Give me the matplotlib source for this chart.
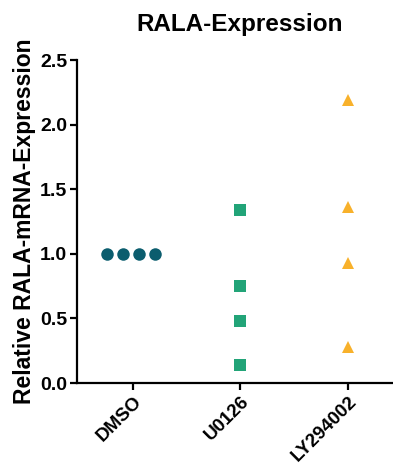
import numpy as np
import matplotlib
matplotlib.use("Agg")
import matplotlib.pyplot as plt

plt.rcParams['font.family'] = ['Liberation Sans', 'DejaVu Sans']

categories = ["DMSO", "U0126", "LY294002"]
dmso = [1.0, 1.0, 1.0, 1.0]
u0126 = [1.34, 0.75, 0.48, 0.14]
ly294002 = [2.19, 1.36, 0.93, 0.28]

groups = [dmso, u0126, ly294002]
markers = ["o", "s", "^"]
colors = ["#0b5d6e", "#22a478", "#f8b12b"]
sizes = [9, 8, 8.5]


def spread(values, step=0.15):
    # spread tied values sideways like a column scatter
    vals = np.asarray(values)
    offs = np.zeros(len(vals))
    for v in np.unique(vals):
        idx = np.where(vals == v)[0]
        n = len(idx)
        offs[idx] = (np.arange(n) - (n - 1) / 2) * step
    return offs


fig = plt.figure(figsize=(3.93, 4.66), dpi=100)
ax = fig.add_axes([0.196, 0.178, 0.804, 0.693])

for i, vals in enumerate(groups):
    xs = i + spread(vals) - (0.02 if i == 0 else 0)
    ax.plot(xs, vals, linestyle="none", marker=markers[i], color=colors[i],
            markersize=sizes[i], markeredgewidth=0, clip_on=False)

ax.set_xlim(-0.52, 2.42)
ax.set_ylim(0, 2.5)
ax.set_yticks([0.0, 0.5, 1.0, 1.5, 2.0, 2.5])
ax.set_yticklabels([f"{t:.1f}" for t in [0.0, 0.5, 1.0, 1.5, 2.0, 2.5]])
ax.set_xticks(range(len(categories)))
ax.set_xticklabels(categories, rotation=45, ha="right", rotation_mode="anchor",
                   fontweight="bold", fontsize=13.5)

for lab in ax.get_yticklabels():
    lab.set_fontweight("bold")
    lab.set_fontsize(14)

ax.spines["top"].set_visible(False)
ax.spines["right"].set_visible(False)
ax.spines["left"].set_linewidth(1.6)
ax.spines["bottom"].set_linewidth(1.6)
ax.tick_params(axis="both", direction="out", width=1.6, length=5, pad=2)

ax.set_ylabel("Relative RALA-mRNA-Expression", fontweight="bold", fontsize=16.5, labelpad=3)
ax.set_title("RALA-Expression", fontweight="bold", fontsize=17.5, pad=21, x=0.515)

fig.savefig("out.png", dpi=100)
